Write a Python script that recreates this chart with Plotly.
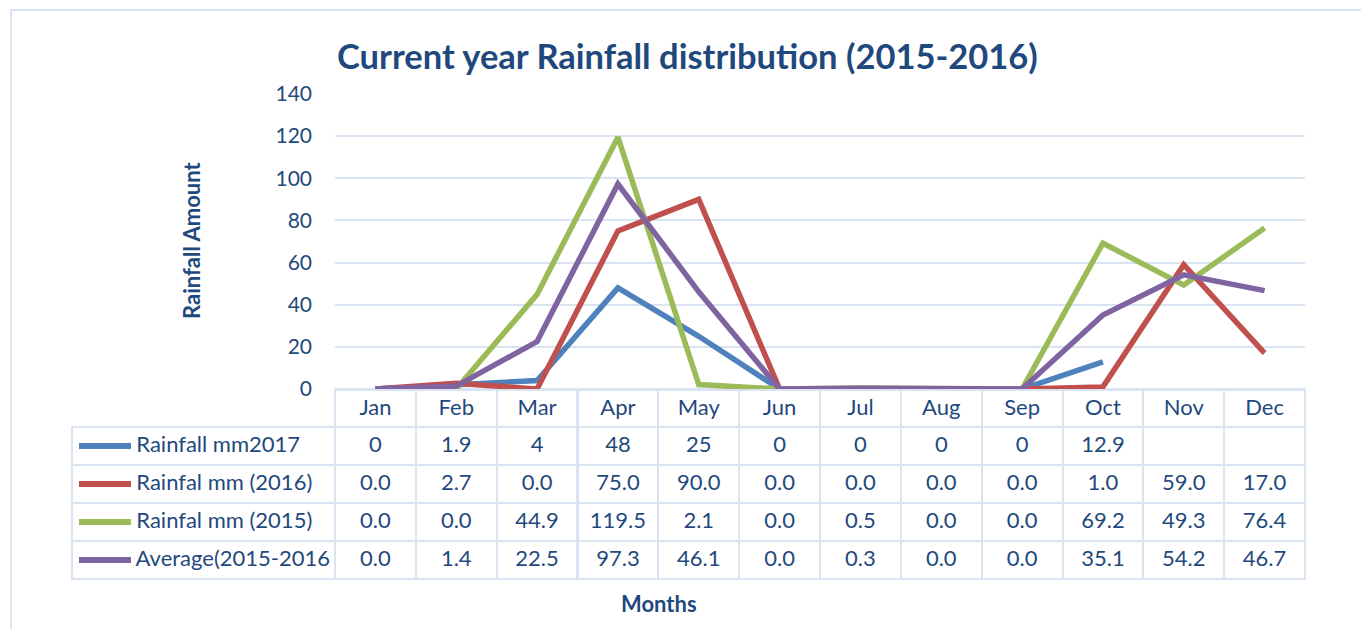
import plotly.graph_objects as go

# ── Data ────────────────────────────────────────────────────────────────────
months = ["Jan", "Feb", "Mar", "Apr", "May", "Jun",
          "Jul", "Aug", "Sep", "Oct", "Nov", "Dec"]

rain_2017 = [0, 1.9, 4, 48, 25, 0, 0, 0, 0, 12.9, None, None]
rain_2016 = [0.0, 2.7, 0.0, 75.0, 90.0, 0.0, 0.0, 0.0, 0.0, 1.0, 59.0, 17.0]
rain_2015 = [0.0, 0.0, 44.9, 119.5, 2.1, 0.0, 0.5, 0.0, 0.0, 69.2, 49.3, 76.4]
rain_avg = [0.0, 1.4, 22.5, 97.3, 46.1, 0.0, 0.3, 0.0, 0.0, 35.1, 54.2, 46.7]

series_names = ["Rainfall mm2017", "Rainfal mm (2016)",
                "Rainfal mm (2015)", "Average(2015-2016"]
series_values = [rain_2017, rain_2016, rain_2015, rain_avg]

# ── Style ───────────────────────────────────────────────────────────────────
# page body has an 8px margin, so the figure is shrunk by that and every
# target pixel position is shifted back by it
OFF = 8
W, H = 1369 - OFF, 629 - OFF
COLORS = ["#4F81BD", "#C0504D", "#9BBB59", "#8064A2"]
TEXT = "#1F497D"
GRID = "#D9E3F1"
CLEAR = "rgba(0,0,0,0)"
FONT = "Lato, 'Open Sans', sans-serif"

# pixel geometry (screen coords) of the plot area / table
PX_L, PX_R = 335, 1305
PX_TOP, PX_ZERO = 94, 389
TBL_L = 72
HEAD_H, ROW_H = 37, 38


def fx(px):
    return (px - OFF) / W


def fy(py):
    return 1 - (py - OFF) / H


fig = go.Figure()

for name, vals, col in zip(series_names, series_values, COLORS):
    fig.add_trace(
        go.Scatter(
            x=months,
            y=vals,
            name=name,
            mode="lines",
            line=dict(color=col, width=5.5),
            connectgaps=False,
            showlegend=False,
        )
    )


# ── Data table under the chart ──────────────────────────────────────────────
def fmt(v, plain):
    if v is None:
        return ""
    return f"{v:g}" if plain else f"{v:.1f}"


pad = "\u00a0" * 10
first_col = [pad + n for n in series_names]
table_cols = [first_col]
for i in range(len(months)):
    table_cols.append([fmt(s[i], k == 0) for k, s in enumerate(series_values)])

n = len(months)
col_w = (PX_R - PX_L) / n
fig.add_trace(
    go.Table(
        domain=dict(x=[fx(TBL_L), fx(PX_R)], y=[fy(610), fy(PX_ZERO + 1)]),
        columnwidth=[PX_L - TBL_L] + [col_w] * n,
        header=dict(
            values=[""] + months,
            height=HEAD_H,
            align="center",
            fill_color=[CLEAR] + ["white"] * n,
            line=dict(color=[CLEAR] + [GRID] * n, width=2),
            font=dict(family=FONT, size=22, color=TEXT),
        ),
        cells=dict(
            values=table_cols,
            height=ROW_H,
            align=["left"] + ["center"] * n,
            fill_color="white",
            line=dict(color=GRID, width=2),
            font=dict(family=FONT, size=22, color=TEXT),
        ),
    )
)

# legend swatches inside the table's first column
shapes = []
for k, col in enumerate(COLORS):
    yc = PX_ZERO + 1 + HEAD_H + ROW_H * k + ROW_H / 2
    shapes.append(
        dict(type="line", xref="paper", yref="paper",
             x0=fx(79), x1=fx(131), y0=fy(yc), y1=fy(yc),
             line=dict(color=col, width=6))
    )

# outer chart frame
shapes.append(
    dict(type="rect", xref="paper", yref="paper",
         x0=fx(11), x1=fx(1364), y0=fy(640), y1=fy(10),
         line=dict(color=GRID, width=2), fillcolor=CLEAR, layer="below")
)

fig.update_layout(
    width=W,
    height=H,
    margin=dict(l=0, r=0, t=0, b=0, pad=0),
    paper_bgcolor="white",
    plot_bgcolor="white",
    font=dict(family=FONT, color=TEXT, size=21),
    xaxis=dict(
        domain=[fx(PX_L), fx(PX_R)],
        type="category",
        range=[-0.5, n - 0.5],
        showticklabels=False,
        showgrid=False,
        zeroline=False,
        showline=False,
        ticks="",
        automargin=False,
    ),
    yaxis=dict(
        domain=[fy(PX_ZERO), fy(PX_TOP)],
        range=[0, 140],
        dtick=20,
        gridcolor=GRID,
        gridwidth=2,
        zeroline=True,
        zerolinecolor=GRID,
        zerolinewidth=2,
        showline=False,
        ticks="",
        ticklabelstandoff=22,
        automargin=False,
        tickfont=dict(family=FONT, size=21, color=TEXT),
    ),
    shapes=shapes,
    annotations=[
        dict(text="<b>Current year Rainfall distribution (2015-2016)</b>",
             xref="paper", yref="paper", x=fx(687), y=fy(55),
             xanchor="center", yanchor="middle", showarrow=False,
             font=dict(family=FONT, size=34.5, color=TEXT)),
        dict(text="<b>Rainfall Amount</b>",
             xref="paper", yref="paper", x=fx(191), y=fy(241),
             xanchor="center", yanchor="middle", showarrow=False, textangle=-90,
             font=dict(family=FONT, size=22, color=TEXT)),
        dict(text="<b>Months</b>",
             xref="paper", yref="paper", x=fx(659), y=fy(603),
             xanchor="center", yanchor="middle", showarrow=False,
             font=dict(family=FONT, size=22, color=TEXT)),
    ],
)

fig.write_html("out.html")
